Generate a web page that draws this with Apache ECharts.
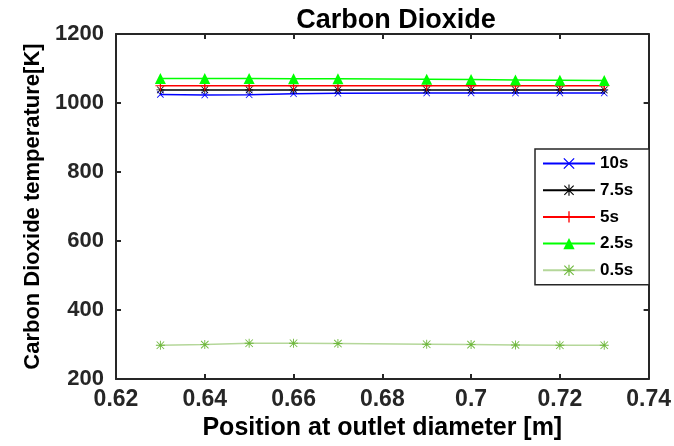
<!DOCTYPE html>
<html>
<head>
<meta charset="utf-8">
<script src="https://cdn.jsdelivr.net/npm/echarts@6/dist/echarts.min.js"></script>
<style>
html,body{margin:0;padding:0;background:#fff;}
#chart{width:674px;height:446px;}
</style>
</head>
<body>
<div id="chart"></div>
<script>
var positions = [0.63, 0.64, 0.65, 0.66, 0.67, 0.69, 0.70, 0.71, 0.72, 0.73];
var t10 = [1025, 1023, 1024, 1027, 1028, 1029, 1029, 1029, 1029, 1029];
var t75 = [1038, 1038, 1038, 1038, 1038, 1038, 1038, 1038, 1038, 1038];
var t5 = [1050, 1050, 1050, 1050, 1050, 1050, 1050, 1050, 1050, 1050];
var t25 = [1071, 1071, 1071, 1070, 1070, 1069, 1068, 1067, 1066, 1065];
var t05 = [298, 300, 304, 304, 303, 301, 300, 299, 298, 298];
var seriesNames = ['10s', '7.5s', '5s', '2.5s', '0.5s'];
var yTicks = [200, 400, 600, 800, 1000, 1200];
var xTicks = [0.62, 0.64, 0.66, 0.68, 0.70, 0.72, 0.74];

var PLUS = 'path://M0.44,0H0.56V1H0.44Z M0,0.44H1V0.56H0Z';
var CROSS = 'path://M0.08,0L1,0.92L0.92,1L0,0.08Z M0.92,0L1,0.08L0.08,1L0,0.92Z';
var STAR = 'path://M0.45,0H0.55V1H0.45Z M0,0.45H1V0.55H0Z M0.12,0.05L0.95,0.88L0.88,0.95L0.05,0.12Z M0.88,0.05L0.95,0.12L0.12,0.95L0.05,0.88Z';

function pairs(vals){ return positions.map(function(x,i){ return [x, vals[i]]; }); }

var font = 'Liberation Sans, Arial, Helvetica, sans-serif';
var dark = '#262626';

function mk(name, vals, lineColor, markColor, symbol, size){
  return {
    name: name, type: 'line', data: pairs(vals),
    symbol: symbol, symbolSize: size,
    showAllSymbol: true,
    lineStyle: {color: lineColor, width: 1.5},
    itemStyle: {color: markColor, borderWidth: 0},
    emphasis: {disabled: true},
    animation: false
  };
}

var chart = echarts.init(document.getElementById('chart'));
chart.setOption({
  backgroundColor: '#fff',
  animation: false,
  title: {
    text: 'Carbon Dioxide', left: 391, top: 2, textAlign: 'center',
    textStyle: {fontFamily: font, fontWeight: 'bold', fontSize: 27, color: '#000'}
  },
  grid: {left: 116, right: 22, top: 34, bottom: 64, containLabel: false},
  legend: {
    orient: 'vertical', left: 535, top: 149,
    padding: [6, 16, 6, 7], itemGap: 9.7, itemWidth: 52, itemHeight: 14,
    backgroundColor: '#fff', borderColor: dark, borderWidth: 1.5,
    textStyle: {fontFamily: font, fontWeight: 'bold', fontSize: 17, color: '#000'},
    data: seriesNames
  },
  xAxis: [{
    type: 'value', min: 0.62, max: 0.74, interval: 0.02, position: 'bottom',
    axisLine: {show: true, onZero: false, lineStyle: {color: dark, width: 2}},
    axisTick: {show: true, inside: true, length: 5, lineStyle: {color: dark, width: 2}},
    splitLine: {show: false},
    axisLabel: {margin: 9, fontFamily: font, fontWeight: 'bold', fontSize: 23, color: dark,
      formatter: function(v){ return String(+v.toFixed(2)); }},
    name: 'Position at outlet diameter [m]', nameLocation: 'middle', nameGap: 35,
    nameTextStyle: {fontFamily: font, fontWeight: 'bold', fontSize: 25, color: '#000'}
  }, {
    type: 'value', min: 0.62, max: 0.74, interval: 0.02, position: 'top',
    axisLine: {show: true, onZero: false, lineStyle: {color: dark, width: 2}},
    axisTick: {show: true, inside: true, length: 5, lineStyle: {color: dark, width: 2}},
    axisLabel: {show: false}, splitLine: {show: false}
  }],
  yAxis: [{
    type: 'value', min: 200, max: 1200, interval: 200, position: 'left',
    axisLine: {show: true, onZero: false, lineStyle: {color: dark, width: 2}},
    axisTick: {show: true, inside: true, length: 5, lineStyle: {color: dark, width: 2}},
    splitLine: {show: false},
    axisLabel: {margin: 12, fontFamily: font, fontWeight: 'bold', fontSize: 22, color: dark,
      formatter: function(v){ return String(v); }},
    name: 'Carbon Dioxide temperature[K]', nameLocation: 'middle', nameGap: 70,
    nameTextStyle: {fontFamily: font, fontWeight: 'bold', fontSize: 22, color: '#000'}
  }, {
    type: 'value', min: 200, max: 1200, interval: 200, position: 'right',
    axisLine: {show: true, onZero: false, lineStyle: {color: dark, width: 2}},
    axisTick: {show: true, inside: true, length: 5, lineStyle: {color: dark, width: 2}},
    axisLabel: {show: false}, splitLine: {show: false}
  }],
  series: [
    mk(seriesNames[0], t10, '#0000ff', '#0000ff', CROSS, 7),
    mk(seriesNames[1], t75, '#000000', '#000000', STAR, 8),
    mk(seriesNames[2], t5, '#ff0000', '#ff0000', PLUS, 10),
    mk(seriesNames[3], t25, '#00ff00', '#00ff00', 'triangle', 11),
    mk(seriesNames[4], t05, '#b5d79a', '#6fb83d', STAR, 9)
  ]
});
</script>
</body>
</html>
